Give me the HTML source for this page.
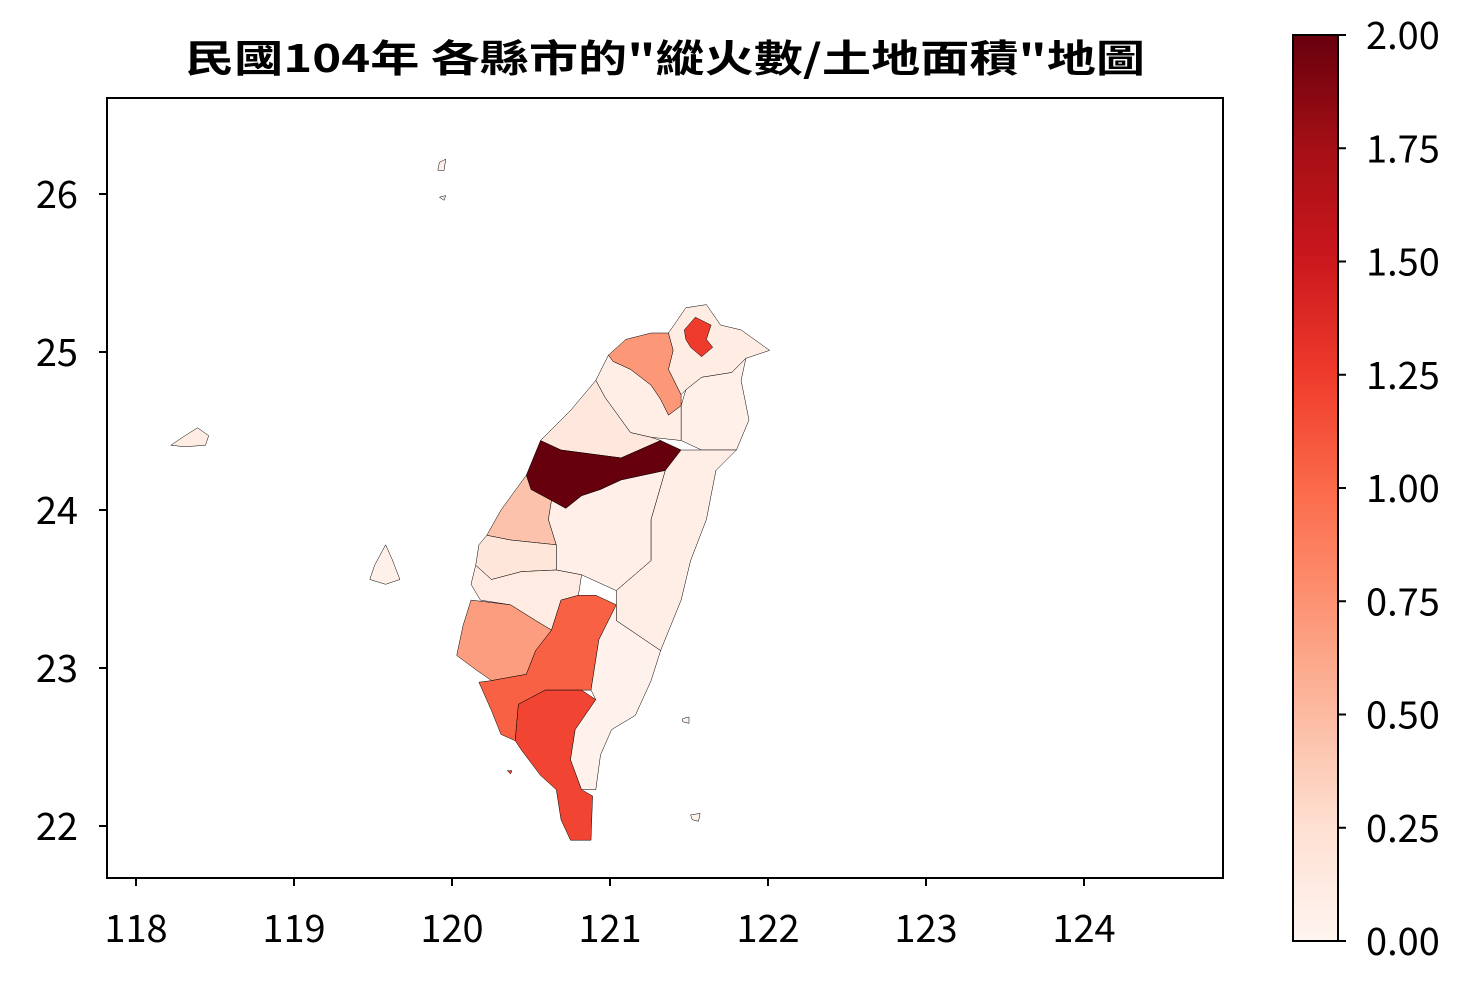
<!DOCTYPE html>
<html><head><meta charset="utf-8">
<style>
html,body{margin:0;padding:0;background:#fff;}
svg{display:block;font-family:"Noto Sans CJK TC","Liberation Sans",sans-serif;}
</style></head>
<body>
<svg id="chart" width="1480" height="997" viewBox="0 0 1480 997" xmlns="http://www.w3.org/2000/svg">
<defs>
<linearGradient id="reds" x1="0" y1="1" x2="0" y2="0">
<stop offset="0" stop-color="#fff5f0"/><stop offset="0.125" stop-color="#fee0d2"/>
<stop offset="0.25" stop-color="#fcbba1"/><stop offset="0.375" stop-color="#fc9272"/>
<stop offset="0.5" stop-color="#fb6a4a"/><stop offset="0.625" stop-color="#ef3b2c"/>
<stop offset="0.75" stop-color="#cb181d"/><stop offset="0.875" stop-color="#a50f15"/>
<stop offset="1" stop-color="#67000d"/>
</linearGradient>
</defs>
<text x="665" y="72" text-anchor="middle" font-size="38" font-weight="bold" textLength="960" lengthAdjust="spacingAndGlyphs">民國104年 各縣市的"縱火數/土地面積"地圖</text>
<rect x="107" y="98" width="1116" height="780" fill="none" stroke="#000" stroke-width="2"/>
<g id="map"></g>
<g id="xaxis"></g>
<g id="yaxis"></g>
<rect x="1293" y="35" width="45" height="906" fill="url(#reds)" stroke="#000" stroke-width="2"/>
<g id="cbaxis"></g>
</svg>
<script>
const regionNames = ["taoyuan","new-taipei","taipei","yilan","hsinchu","miaoli","taichung","changhua","nantou","hualien","yunlin","chiayi","tainan","kaohsiung","pingtung","taitung","penghu","kinmen","green-island","lanyu","liuqiu","matsu-a","matsu-b"];
const regionValues = [0.72,0.1,1.25,0.06,0.08,0.15,2.0,0.45,0.07,0.08,0.18,0.12,0.68,1.05,1.2,0.03,0.05,0.1,0.03,0.03,1.2,0.05,0.05];
const regionShapes = [
[[120.99,24.98],[121.10,25.08],[121.26,25.12],[121.37,25.12],[121.40,25.01],[121.37,24.89],[121.45,24.73],[121.45,24.66],[121.37,24.60],[121.32,24.70],[121.26,24.79],[121.13,24.89],[121.02,24.94]],
[[121.37,25.12],[121.48,25.28],[121.61,25.30],[121.70,25.17],[121.83,25.14],[122.01,25.01],[121.86,24.96],[121.77,24.87],[121.58,24.84],[121.48,24.76],[121.45,24.73],[121.37,24.89],[121.40,25.01]],
[[121.47,25.14],[121.54,25.22],[121.64,25.17],[121.61,25.08],[121.65,25.03],[121.58,24.97],[121.51,25.03],[121.48,25.08]],
[[121.58,24.84],[121.77,24.87],[121.86,24.96],[121.83,24.82],[121.88,24.57],[121.80,24.38],[121.58,24.38],[121.45,24.44],[121.45,24.66],[121.48,24.76]],
[[120.91,24.82],[120.99,24.98],[121.02,24.94],[121.13,24.89],[121.26,24.79],[121.32,24.70],[121.37,24.60],[121.45,24.66],[121.45,24.44],[121.26,24.46],[121.13,24.49],[120.97,24.71]],
[[120.75,24.63],[120.91,24.82],[120.97,24.71],[121.13,24.49],[121.26,24.46],[121.32,24.44],[121.07,24.33],[120.69,24.38],[120.56,24.44]],
[[120.56,24.44],[120.69,24.38],[121.07,24.33],[121.32,24.44],[121.45,24.38],[121.35,24.25],[121.07,24.19],[120.94,24.13],[120.82,24.09],[120.72,24.01],[120.63,24.06],[120.50,24.13],[120.47,24.22]],
[[120.47,24.22],[120.50,24.13],[120.63,24.06],[120.61,23.94],[120.66,23.78],[120.37,23.81],[120.22,23.84],[120.31,24.00]],
[[120.63,24.06],[120.72,24.01],[120.82,24.09],[120.94,24.13],[121.07,24.19],[121.35,24.25],[121.26,23.94],[121.26,23.68],[121.04,23.49],[120.82,23.59],[120.66,23.62],[120.66,23.78],[120.61,23.94]],
[[121.35,24.25],[121.45,24.38],[121.58,24.38],[121.80,24.38],[121.67,24.25],[121.61,23.94],[121.51,23.68],[121.45,23.43],[121.32,23.11],[121.04,23.30],[121.04,23.49],[121.26,23.68],[121.26,23.94]],
[[120.22,23.84],[120.37,23.81],[120.66,23.78],[120.66,23.62],[120.44,23.61],[120.25,23.56],[120.15,23.65],[120.17,23.78]],
[[120.15,23.65],[120.25,23.56],[120.44,23.61],[120.66,23.62],[120.82,23.59],[120.80,23.46],[120.69,23.43],[120.63,23.24],[120.53,23.30],[120.37,23.40],[120.18,23.43],[120.12,23.53]],
[[120.12,23.43],[120.37,23.40],[120.53,23.30],[120.63,23.24],[120.53,23.11],[120.47,22.96],[120.25,22.92],[120.15,22.99],[120.03,23.08],[120.07,23.27]],
[[120.63,23.24],[120.69,23.43],[120.80,23.46],[120.91,23.46],[121.04,23.40],[120.93,23.18],[120.88,22.86],[120.59,22.86],[120.42,22.77],[120.40,22.54],[120.31,22.58],[120.25,22.73],[120.17,22.91],[120.25,22.92],[120.47,22.96],[120.53,23.11]],
[[120.42,22.77],[120.59,22.86],[120.82,22.86],[120.91,22.80],[120.78,22.61],[120.75,22.42],[120.82,22.23],[120.89,22.19],[120.88,21.91],[120.75,21.91],[120.69,22.04],[120.66,22.23],[120.56,22.32],[120.44,22.48],[120.40,22.54]],
[[121.04,23.40],[121.04,23.30],[121.32,23.11],[121.26,22.92],[121.16,22.70],[121.01,22.61],[120.94,22.45],[120.91,22.23],[120.82,22.23],[120.75,22.42],[120.78,22.61],[120.91,22.80],[120.88,22.86],[120.93,23.18]],
[[119.51,23.65],[119.58,23.78],[119.62,23.69],[119.67,23.56],[119.58,23.53],[119.48,23.56]],
[[118.22,24.41],[118.31,24.47],[118.39,24.52],[118.46,24.47],[118.44,24.41],[118.31,24.40]],
[[121.46,22.68],[121.50,22.69],[121.50,22.65],[121.46,22.66]],
[[121.51,22.07],[121.57,22.08],[121.56,22.03],[121.52,22.04]],
[[120.35,22.35],[120.38,22.35],[120.37,22.33]],
[[119.92,26.20],[119.96,26.22],[119.95,26.15],[119.91,26.15]],
[[119.92,25.98],[119.96,25.99],[119.95,25.96]]
];
const xTicks = [118,119,120,121,122,123,124];
const yTicks = [22,23,24,25,26];
const cbTicks = [0,0.25,0.5,0.75,1,1.25,1.5,1.75,2];
const cbLabels = ["0.00","0.25","0.50","0.75","1.00","1.25","1.50","1.75","2.00"];

const NS="http://www.w3.org/2000/svg";
const xs = lon => 136 + (lon-118)*158;
const ys = lat => 194 - (lat-26)*158;
const vmin=0, vmax=2;
const cmap=["#fff5f0","#fee0d2","#fcbba1","#fc9272","#fb6a4a","#ef3b2c","#cb181d","#a50f15","#67000d"];
function hex(c){return [1,3,5].map(i=>parseInt(c.substr(i,2),16));}
function color(v){
  let t=Math.max(0,Math.min(1,(v-vmin)/(vmax-vmin)))*8;
  let i=Math.min(7,Math.floor(t)), f=t-i;
  let a=hex(cmap[i]), b=hex(cmap[i+1]);
  return "rgb("+a.map((x,k)=>Math.round(x+(b[k]-x)*f)).join(",")+")";
}
const map=document.getElementById('map');
regionShapes.forEach((pts,i)=>{
  const p=document.createElementNS(NS,'polygon');
  p.setAttribute('points',pts.map(q=>xs(q[0]).toFixed(1)+","+ys(q[1]).toFixed(1)).join(" "));
  p.setAttribute('fill',color(regionValues[i]));
  p.setAttribute('stroke','#000');
  p.setAttribute('stroke-width','0.5');
  p.setAttribute('stroke-linejoin','round');
  
  
  map.appendChild(p);
});
function line(g,x1,y1,x2,y2){const l=document.createElementNS(NS,'line');l.setAttribute('x1',x1);l.setAttribute('y1',y1);l.setAttribute('x2',x2);l.setAttribute('y2',y2);l.setAttribute('stroke','#000');l.setAttribute('stroke-width','2');g.appendChild(l);return l;}
function text(g,x,y,s,anchor){const t=document.createElementNS(NS,'text');t.setAttribute('x',x);t.setAttribute('y',y);t.setAttribute('font-size','38');t.setAttribute('text-anchor',anchor);t.textContent=s;g.appendChild(t);return t;}
const xg=document.getElementById('xaxis');
xTicks.forEach(v=>{
  const l=line(xg,xs(v),878,xs(v),886);
  
  
  const t=text(xg,xs(v),942,String(v),'middle');
  
  
});
const yg=document.getElementById('yaxis');
yTicks.forEach(v=>{
  const l=line(yg,99,ys(v),107,ys(v));
  
  
  const t=text(yg,78,ys(v)+14,String(v),'end');
  
  
});
const cg=document.getElementById('cbaxis');
const cy = v => 941 - (v-vmin)/(vmax-vmin)*906;
cbTicks.forEach((v,i)=>{
  const l=line(cg,1338,cy(v),1346,cy(v));
  
  
  const t=text(cg,1366,cy(v)+14,cbLabels[i],'start');
  
  
});
</script>
</body></html>
